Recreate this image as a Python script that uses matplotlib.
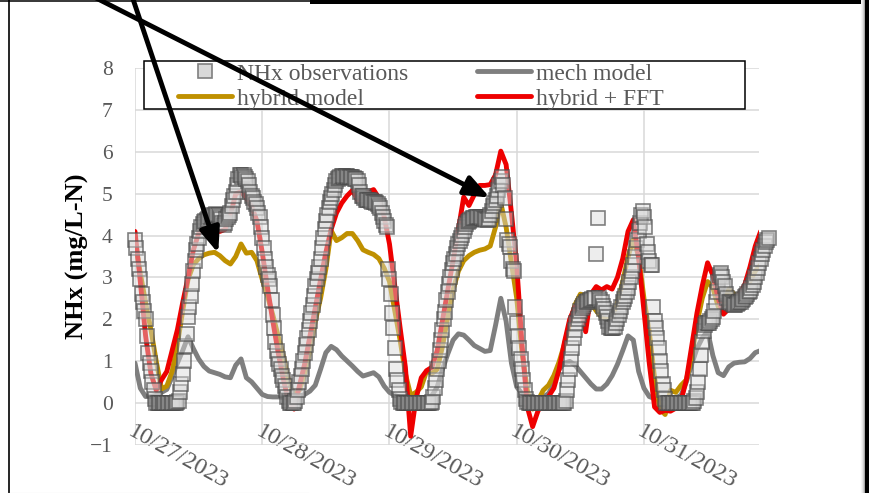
import numpy as np
import matplotlib
matplotlib.use('Agg')
import matplotlib.pyplot as plt
import matplotlib.dates as mdates
from matplotlib.lines import Line2D
from matplotlib.patches import Rectangle

plt.rcParams['font.family'] = 'Liberation Serif'

START = np.datetime64('2023-10-27T00:00')

# NHx observations, every 15 min from 10/27 00:00
obs_nhx = [
    3.9, 3.7, 3.45, 3.2, 2.95, 2.6, 2.4, 2.2,
    2.0, 1.6, 1.2, 0.95, 0.75, 0.5, 0.3, 0.1,
    0, 0, 0, 0, 0, 0, 0, 0,
    0, 0, 0, 0, 0, 0, 0, 0,
    0.02, 0.05, 0.25, 0.45, 0.7, 1.0, 1.35, 1.65,
    2.05, 2.3, 2.55, 2.85, 3.15, 3.4, 3.65, 3.8,
    3.95, 4.1, 4.2, 4.28, 4.32, 4.36, 4.38, 4.4,
    4.45, 4.45, 4.48, 4.5, 4.5, 4.52, 4.5, 4.5,
    4.45, 4.4, 4.3, 4.25, 4.3, 4.4, 4.45, 4.5,
    4.55, 4.7, 4.85, 4.95, 5.05, 5.2, 5.35, 5.45,
    5.45, 5.4, 5.45, 5.4, 5.35, 5.3, 5.2, 5.05,
    4.95, 4.9, 4.8, 4.75, 4.65, 4.55, 4.45, 4.2,
    # 10/28
    3.95, 3.7, 3.45, 3.25, 3.05, 2.95, 2.8, 2.45,
    2.1, 1.8, 1.45, 1.25, 1.05, 0.92, 0.8, 0.65,
    0.55, 0.4, 0.3, 0.15, 0.05, 0, 0, 0,
    0, 0.05, 0.15, 0.3, 0.5, 0.65, 0.8, 1.0,
    1.2, 1.38, 1.55, 1.75, 1.95, 2.15, 2.35, 2.55,
    2.8, 2.95, 3.1, 3.25, 3.45, 3.7, 3.95, 4.15,
    4.35, 4.5, 4.65, 4.8, 4.9, 5.0, 5.1, 5.2,
    5.3, 5.35, 5.38, 5.4, 5.42, 5.42, 5.4, 5.42,
    5.42, 5.4, 5.4, 5.4, 5.4, 5.38, 5.35, 5.35,
    5.3, 5.2, 5.05, 4.95, 4.95, 4.9, 4.85, 4.85,
    4.85, 4.85, 4.82, 4.8, 4.8, 4.8, 4.78, 4.75,
    4.7, 4.65, 4.55, 4.45, 4.35, 4.25, 4.2, 3.2,
    # 10/29
    2.95, 2.6, 2.15, 1.8, 1.3, 0.8, 0.55, 0.3,
    0.1, 0.02, 0, 0, 0, 0, 0, 0,
    0, 0, 0, 0, 0, 0, 0, 0,
    0, 0, 0, 0, 0, 0, 0, 0,
    0.02, 0.15, 0.35, 0.55, 0.8, 1.0, 1.27, 1.5,
    1.75, 2.0, 2.18, 2.45, 2.65, 2.85, 3.0, 3.18,
    3.34, 3.45, 3.55, 3.7, 3.8, 3.88, 3.95, 4.02,
    4.1, 4.2, 4.28, 4.32, 4.35, 4.38, 4.4, 4.42,
    4.42, 4.44, 4.45, 4.45, 4.45, 4.45, 4.42, 4.4,
    4.4, 4.38, 4.38, 4.4, 4.5, 4.6, 4.7, 4.78,
    4.85, 4.95, 5.1, 5.2, 5.3, 5.4, 5.2, 4.9,
    4.4, 3.9, 3.8, 3.72, 3.4, 3.2, 3.15, 2.3,
    # 10/30
    1.9, 1.6, 1.3, 1.05, 0.8, 0.55, 0.3, 0.1,
    0.02, 0, 0, 0, 0, 0, 0, 0,
    0, 0, 0, 0, 0, 0, 0, 0,
    0, 0, 0, 0, 0, 0, 0, 0,
    0, 0, 0, 0, 0, 0.05, 0.3, 0.55,
    0.8, 1.05, 1.3, 1.55, 1.75, 1.9, 2.0, 2.1,
    2.2, 2.27, 2.32, 2.37, 2.4, 2.42, 2.44, 2.45,
    2.46, 2.48, 2.5, 2.5, 3.56, 4.42, 2.5, 2.45,
    2.4, 2.32, 2.25, 2.15, 2.06, 1.95, 1.82, 1.8,
    1.8, 1.8, 1.82, 1.9, 2.0, 2.1, 2.2, 2.3,
    2.4, 2.48, 2.55, 2.65, 2.75, 2.88, 3.0, 3.15,
    3.3, 3.5, 3.7, 3.9, 4.1, 4.3, 4.5, 4.6,
    4.45, 4.2, 3.8, 3.6, 3.4, 3.3, 3.3, 2.3,
    # 10/31
    1.95, 1.8, 1.55, 1.3, 1.0, 0.75, 0.45, 0.3,
    0.1, 0, 0, 0, 0, 0, 0, 0,
    0, 0, 0, 0, 0, 0, 0, 0,
    0, 0, 0, 0, 0, 0, 0.05, 0.12,
    0.25, 0.5, 0.8, 1.15, 1.45, 1.72, 1.85, 1.9,
    1.9, 1.92, 1.95, 2.0, 2.05, 2.2, 2.4, 2.65,
    2.9, 3.05, 3.1, 3.0, 2.9, 2.8, 2.6, 2.5,
    2.42, 2.4, 2.38, 2.36, 2.35, 2.35, 2.36, 2.38,
    2.4, 2.42, 2.45, 2.48, 2.52, 2.56, 2.6, 2.64,
    2.68, 2.75, 2.82, 2.9, 3.0, 3.1, 3.22, 3.34,
    3.45, 3.55, 3.65, 3.75, 3.85, 3.9, 3.95,
]

# model outputs, hourly from 10/27 00:00
mech_model = [
    0.95, 0.35, 0.15, 0.15, 0.18, 0.25, 0.32, 0.62, 0.95, 1.25, 1.58, 1.3,
    1.05, 0.87, 0.76, 0.72, 0.68, 0.62, 0.6, 0.9, 1.05, 0.6, 0.5, 0.35,
    0.2, 0.15, 0.14, 0.14, 0.13, 0.13, 0.14, 0.16, 0.2, 0.28, 0.42, 0.8,
    1.2, 1.35, 1.27, 1.12, 1.0, 0.88, 0.75, 0.64, 0.68, 0.72, 0.62, 0.4,
    0.25, 0.18, 0.13, 0.11, 0.1, 0.1, 0.11, 0.13, 0.17, 0.38, 0.8, 1.17,
    1.5, 1.65, 1.62, 1.5, 1.37, 1.3, 1.23, 1.25, 1.85, 2.5, 1.95, 0.95,
    0.38, 0.22, 0.14, 0.12, 0.12, 0.14, 0.22, 0.45, 0.8, 0.95, 0.99, 0.9,
    0.75, 0.6, 0.45, 0.33, 0.33, 0.45, 0.65, 0.92, 1.25, 1.6, 1.5, 0.75,
    0.35, 0.15, 0.1, 0.1, 0.1, 0.1, 0.12, 0.18, 0.5, 0.92, 1.3, 1.55,
    1.72, 1.13, 0.72, 0.65, 0.86, 0.95, 0.97, 0.98, 1.06, 1.2, 1.25,
]

hybrid_model = [
    3.9, 3.1, 2.4, 1.75, 1.0, 0.33, 0.4, 0.75, 1.4, 2.2, 2.95, 3.3,
    3.45, 3.54, 3.58, 3.6, 3.52, 3.4, 3.32, 3.5, 3.8, 3.58, 3.6, 3.4,
    2.95, 2.55, 2.1, 1.6, 1.1, 0.5, 0.2, 0.3, 0.68, 1.25, 1.95, 2.5,
    3.2, 4.12, 3.88, 3.95, 4.05, 4.05, 3.88, 3.66, 3.6, 3.55, 3.45, 3.22,
    2.9, 2.2, 1.5, 0.7, 0.18, 0.25, 0.38, 0.76, 0.7, 0.8, 1.35, 2.05,
    2.7, 3.15, 3.4, 3.52, 3.6, 3.65, 3.68, 3.75, 4.2, 4.78, 4.2, 3.35,
    2.5, 1.2, 0.3, -0.15, 0.05, 0.3, 0.42, 0.65, 0.98, 1.4, 1.9, 2.35,
    2.6, 2.56, 2.38, 2.2, 2.05, 1.99, 2.03, 2.4, 2.9, 3.5, 3.9, 3.5,
    2.5, 1.7, 0.6, -0.15, -0.28, 0.3, 0.25, 0.42, 0.55, 1.1, 1.9, 2.5,
    2.9, 2.75, 2.3, 2.35, 2.72, 2.6, 2.55, 2.65, 2.9, 3.15, 3.3,
]

hybrid_fft = [
    4.1, 2.9, 1.6, 0.7, 0.3, 0.55, 0.75, 1.25, 1.75, 2.4, 3.0, 3.65,
    4.05, 4.22, 4.18, 4.15, 4.1, 4.15, 4.5, 5.0, 5.05, 4.9, 4.7, 4.35,
    3.6, 2.75, 1.95, 1.2, 0.55, 0.0, -0.15, 0.4, 0.93, 1.6, 2.27, 2.95,
    3.6, 4.15, 4.54, 4.78, 4.95, 5.08, 4.85, 4.98, 5.05, 5.1, 4.9, 4.45,
    3.8, 2.8, 1.8, 0.85, -0.8, 0.1, 0.6, 0.77, 0.85, 1.25, 1.97, 2.7,
    3.4, 4.15, 4.92, 4.72, 4.98, 5.2, 5.2, 5.22, 5.45, 6.02, 5.7, 4.55,
    3.3, 1.4, -0.1, -0.57, -0.2, 0.05, 0.15, 0.35, 0.8, 1.45, 2.0, 2.3,
    2.3, 1.7, 2.6, 2.78, 2.7, 2.78, 2.72, 3.0, 3.45, 4.1, 4.38, 3.45,
    2.2, 0.95, -0.1, -0.23, -0.18, -0.2, -0.13, 0.05, 0.55, 1.35, 2.15, 2.8,
    3.35, 3.05, 2.5, 2.12, 2.25, 2.42, 2.6, 2.82, 3.25, 3.75, 4.1,
]

labels = ['NHx observations', 'hybrid model', 'mech model', 'hybrid + FFT']

t_obs = START + np.arange(len(obs_nhx)) * np.timedelta64(15, 'm')
t_mod = START + np.arange(len(hybrid_fft)) * np.timedelta64(60, 'm')

W, H = 875, 493
fig = plt.figure(figsize=(W / 100, H / 100), dpi=100)
ax = fig.add_axes([135 / W, 1 - 444.6 / H, 624 / W, 376.2 / H])

line_kw = dict(lw=3.5, solid_capstyle='round', solid_joinstyle='round')
ax.plot(t_mod, mech_model, color='#7f7f7f', zorder=2, **line_kw)
ax.plot(t_mod, hybrid_model, color='#bf9000', zorder=3, **line_kw)
ax.plot(t_mod, hybrid_fft, color='#ee0000', zorder=4, **line_kw)
ax.plot(t_obs, obs_nhx, ls='none', marker='s', ms=10, mew=1.2,
        mfc=(0.85, 0.85, 0.85, 0.45), mec=(0.3, 0.3, 0.3, 0.7),
        zorder=5, clip_on=False)

ax.set_xlim(START, START + np.timedelta64(7062, 'm'))
ax.set_ylim(-1, 8)
ax.set_yticks(range(-1, 9))
ax.xaxis.set_major_locator(mdates.DayLocator())
ax.xaxis.set_major_formatter(mdates.DateFormatter('%m/%d/%Y'))
ax.grid(True, color='#d9d9d9', lw=1.1)
ax.set_axisbelow(True)
for s in ax.spines.values():
    s.set_visible(False)
ax.tick_params(axis='both', length=0, colors='#595959', labelsize=15.5)
ax.tick_params(axis='y', pad=16)
ax.tick_params(axis='x', pad=-17, labelsize=17.5)
plt.setp(ax.get_xticklabels(), rotation=-29, ha='left', va='top',
         rotation_mode='anchor')

ax.set_ylabel('NHx (mg/L-N)', fontsize=19, fontweight='bold', color='black')
ax.yaxis.set_label_coords(-0.0737, 0.5)

# legend box + legend
box = Rectangle((0.0144, 0.892), 0.963, 0.1276, transform=ax.transAxes,
                fc='white', ec='black', lw=1.1, clip_on=False, zorder=6)
ax.add_artist(box)
handles = [
    Line2D([], [], ls='none', marker='s', ms=10, mfc='#d9d9d9', mec='#7f7f7f', mew=1.2),
    Line2D([], [], color='#bf9000', lw=3.5, solid_capstyle='round'),
    Line2D([], [], color='#7f7f7f', lw=3.5, solid_capstyle='round'),
    Line2D([], [], color='#ee0000', lw=3.5, solid_capstyle='round'),
]
leg = ax.legend(handles, labels, ncol=2, loc='upper left',
                bbox_to_anchor=(0.0689, 1.0143), frameon=False, borderpad=0,
                borderaxespad=0, fontsize=17, handlelength=2.3,
                handletextpad=0.2, columnspacing=2.9, labelspacing=0.15,
                labelcolor='#595959')
leg.set_zorder(7)

# arrows pointing at the hybrid model
arrow_kw = dict(arrowstyle='-|>,head_length=0.75,head_width=0.3', mutation_scale=20,
                lw=3.5, color='black', shrinkA=0, shrinkB=0)
tips = [(START + np.timedelta64(942, 'm'), 3.58, (126.6, -20)),
        (START + np.timedelta64(4016, 'm'), 4.91, (60.5, -20))]
for tx, ty, (px, py) in tips:
    an = ax.annotate('', xy=(mdates.date2num(tx), ty), xycoords='data',
                     xytext=(px / W, 1 - py / H), textcoords='figure fraction',
                     arrowprops=arrow_kw, annotation_clip=False, zorder=10)
    an.arrow_patch.set_clip_on(False)

# slide frame around the chart
fig.add_artist(Line2D([8.5 / W, 8.5 / W], [0, 1], color='black', lw=1.2,
                      transform=fig.transFigure))
fig.add_artist(Line2D([0, 310 / W], [1 - 0.75 / H] * 2, color='black', lw=1.1,
                      transform=fig.transFigure))
fig.add_artist(Rectangle((310 / W, 1 - 3.5 / H), 559 / W, 3.5 / H, fc='black',
                         ec='none', transform=fig.transFigure))
for i, g in enumerate(['#f4f4f4', '#e6e6e6', '#cfcfcf', '#a8a8a8']):
    fig.add_artist(Rectangle(((861 + i) / W, 0), 1 / W, 1, fc=g, ec='none',
                             transform=fig.transFigure))
fig.add_artist(Rectangle((865 / W, 0), 4 / W, 1, fc='black', ec='none',
                         transform=fig.transFigure))
fig.add_artist(Line2D([8 / W, 308 / W], [1 - 492.5 / H] * 2, color='#d8d8d8',
                      lw=0.8, transform=fig.transFigure))

fig.savefig('out.png', dpi=100)
